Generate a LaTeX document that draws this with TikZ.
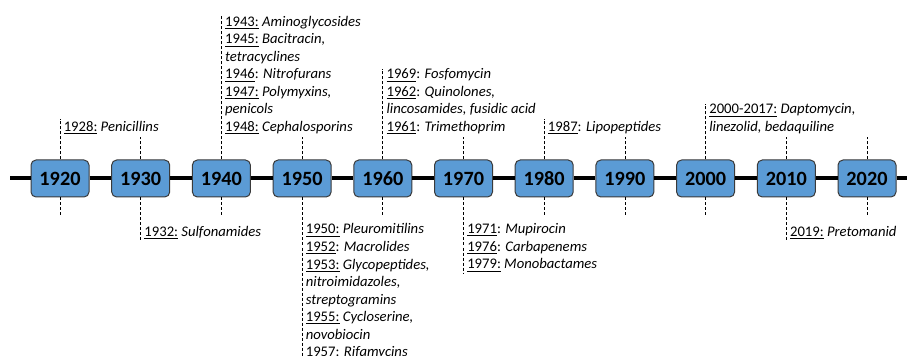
\documentclass[tikz,border=0pt]{standalone}
\usepackage{fontspec}
\setmainfont{Carlito}
\newcommand{\uyr}[1]{\underline{#1}}
\definecolor{boxblue}{HTML}{5B9BD5}
\definecolor{boxline}{HTML}{3A3A3A}
\tikzset{
  decade/.style={draw=boxline, line width=0.75pt, fill=boxblue, rounded corners=3.75pt,
    minimum width=43.5pt, minimum height=27.75pt, inner sep=0pt,
    font=\fontsize{15.2}{18}\selectfont\bfseries},
  timeline/.style={line width=3pt},
  shorttick/.style={line width=0.6pt, dash pattern=on 2.25pt off 1.5pt},
  evtext/.style={inner sep=0pt, align=left, font=\fontsize{11}{13.15}\selectfont,
    execute at begin node=\strut, execute at end node=\strut},
  evtop/.style={evtext, anchor=south west},
  evbot/.style={evtext, anchor=north west}
}

\begin{document}
\begin{tikzpicture}[x=0.75pt,y=-0.75pt]
			\useasboundingbox (0,0) rectangle (907,356);
			\clip (0,0) rectangle (907,356);

			% boxes
			\node[decade] (b1920) at (60,178.5) {1920};
			\node[decade] (b1930) at (140.7,178.5) {1930};
			\node[decade] (b1940) at (221.4,178.5) {1940};
			\node[decade] (b1950) at (302.1,178.5) {1950};
			\node[decade] (b1960) at (382.8,178.5) {1960};
			\node[decade] (b1970) at (463.5,178.5) {1970};
			\node[decade] (b1980) at (544.2,178.5) {1980};
			\node[decade] (b1990) at (624.9,178.5) {1990};
			\node[decade] (b2000) at (705.6,178.5) {2000};
			\node[decade] (b2010) at (786.3,178.5) {2010};
			\node[decade] (b2020) at (867,178.5) {2020};

			% time line
			\coordinate (lstart) at (10,178.5);
			\coordinate (lend) at (907,178.5);
			\draw[timeline] (lstart) -- (b1920) -- (b1930) -- (b1940) -- (b1950) -- (b1960)
			  -- (b1970) -- (b1980) -- (b1990) -- (b2000) -- (b2010) -- (b2020) -- (lend);

			% labels above
			\node[evtop] (e1928) at (63.5,137) {\uyr{1928:} \textit{Penicillins}};
			\node[evtop] (e1943) at (224.9,137) {\uyr{1943:} \textit{Aminoglycosides}\\
			  \uyr{1945:} \textit{Bacitracin,}\\
			  \textit{tetracyclines}\\
			  \uyr{1946}: \textit{Nitrofurans}\\
			  \uyr{1947:} \textit{Polymyxins,}\\
			  \textit{penicols}\\
			  \uyr{1948:} \textit{Cephalosporins}};
			\node[evtop] (e1969) at (386.3,137) {\uyr{1969}: \textit{Fosfomycin}\\
			  \uyr{1962}: \textit{Quinolones,}\\
			  \textit{lincosamides, fusidic acid}\\
			  \uyr{1961}: \textit{Trimethoprim}};
			\node[evtop] (e1987) at (547.7,137) {\uyr{1987}: \textit{Lipopeptides}};
			\node[evtop] (e2000) at (709.1,137) {\uyr{2000-2017:} \textit{Daptomycin,}\\
			  \textit{linezolid, bedaquiline}};

			% labels below
			\node[evbot] (e1932) at (144.2,223.5) {\uyr{1932:} \textit{Sulfonamides}};
			\node[evbot] (e1950) at (305.6,223.5) {\uyr{1950:} \textit{Pleuromitilins}\\
			  \uyr{1952}: \textit{Macrolides}\\
			  \uyr{1953:} \textit{Glycopeptides,}\\
			  \textit{nitroimidazoles,}\\
			  \textit{streptogramins}\\
			  \uyr{1955:} \textit{Cycloserine,}\\
			  \textit{novobiocin}\\
			  \uyr{1957}: \textit{Rifamycins}};
			\node[evbot] (e1971) at (467,223.5) {\uyr{1971}: \textit{Mupirocin}\\
			  \uyr{1976}: \textit{Carbapenems}\\
			  \uyr{1979:} \textit{Monobactames}};
			\node[evbot] (e2019) at (789.8,223.5) {\uyr{2019:} \textit{Pretomanid}};

			% long dashes to labels
			\draw[shorttick] (b1920.north) -- (b1920.north |- e1928.north);
			\draw[shorttick] (b1940.north) -- (b1940.north |- e1943.north);
			\draw[shorttick] (b1960.north) -- (b1960.north |- e1969.north);
			\draw[shorttick] (b1980.north) -- (b1980.north |- e1987.north);
			\draw[shorttick] (b2000.north) -- (b2000.north |- e2000.north);
			\draw[shorttick] (b1930.south) -- (b1930.south |- e1932.south);
			\draw[shorttick] (b1950.south) -- (b1950.south |- e1950.south);
			\draw[shorttick] (b1970.south) -- (b1970.south |- e1971.south);
			\draw[shorttick] (b2010.south) -- (b2010.south |- e2019.south);

			% short dashes
			\draw[shorttick] (b1930.north) -- ++(0,-22);
			\draw[shorttick] (b1950.north) -- ++(0,-22);
			\draw[shorttick] (b1970.north) -- ++(0,-22);
			\draw[shorttick] (b1990.north) -- ++(0,-22);
			\draw[shorttick] (b2010.north) -- ++(0,-22);
			\draw[shorttick] (b2020.north) -- ++(0,-22);
			\draw[shorttick] (b1920.south) -- ++(0,20);
			\draw[shorttick] (b1940.south) -- ++(0,20);
			\draw[shorttick] (b1960.south) -- ++(0,20);
			\draw[shorttick] (b1980.south) -- ++(0,20);
			\draw[shorttick] (b1990.south) -- ++(0,20);
			\draw[shorttick] (b2000.south) -- ++(0,20);
			\draw[shorttick] (b2020.south) -- ++(0,20);
		\end{tikzpicture}
\end{document}
